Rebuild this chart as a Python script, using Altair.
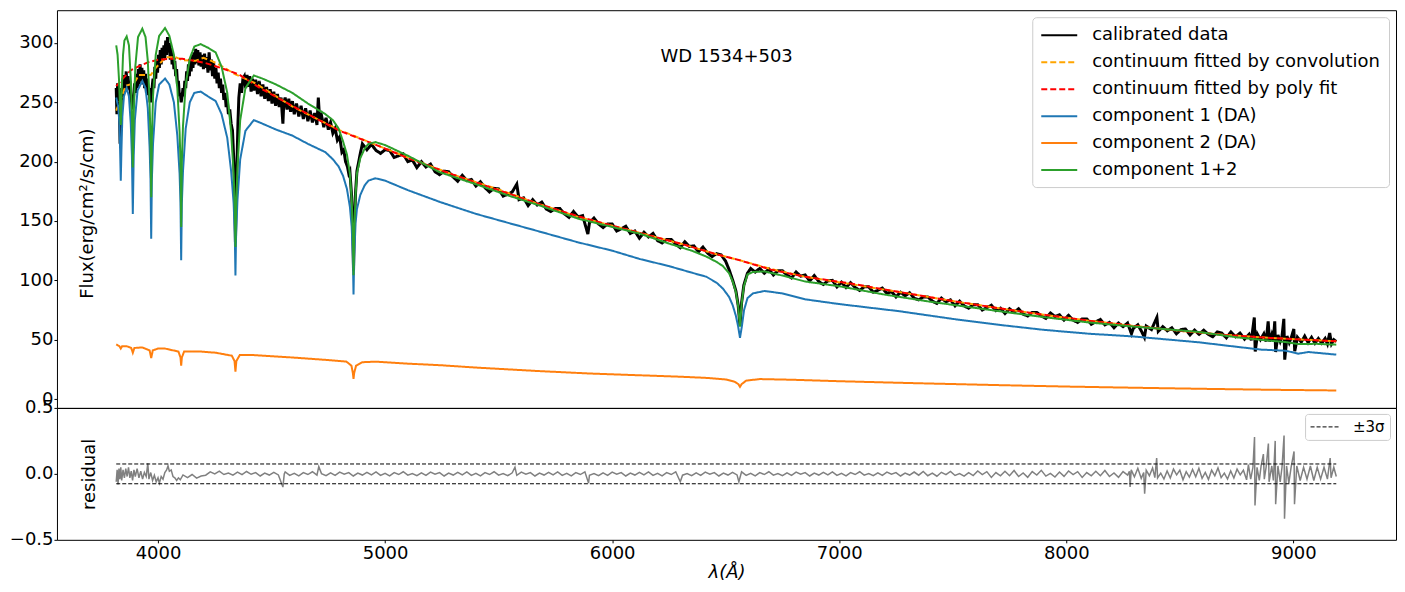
import altair as alt
import pandas as pd

# ---------------- data ----------------
series_names = ["calibrated data", "continuum fitted by convolution",
                "continuum fitted by poly fit", "component 1 (DA)",
                "component 2 (DA)", "component 1+2"]
series_colors = ["#000000", "#ffa500", "#ff0000", "#1f77b4", "#ff7f0e", "#2ca02c"]
series_dash = [[1, 0], [6, 3], [6, 3], [1, 0], [1, 0], [1, 0]]
series_width = [3, 2, 2, 2, 2, 2]

x_ticks = [4000, 5000, 6000, 7000, 8000, 9000]
y_ticks_top = [0, 50, 100, 150, 200, 250, 300]
y_ticks_res = [-0.5, 0.0, 0.5]
star_name = "WD 1534+503"
star_name_pos = [6504, 288]
sigma3 = 0.075
lam_span = [3816, 9189]

calibrated = [
    (3816, 262), (3819, 240), (3822, 266), (3825, 248), (3828, 258), (3831, 236), (3833, 215), (3835, 222),
    (3837, 245), (3840, 262), (3843, 252), (3846, 270), (3849, 258), (3852, 273), (3856, 262), (3860, 276),
    (3864, 260), (3868, 272), (3872, 262), (3876, 268), (3880, 255), (3884, 250), (3887, 244), (3890, 248),
    (3893, 256), (3897, 266), (3901, 258), (3905, 274), (3909, 262), (3913, 278), (3917, 265), (3921, 282),
    (3925, 268), (3929, 279), (3933, 265), (3937, 277), (3941, 262), (3945, 274), (3949, 258), (3953, 270),
    (3957, 256), (3961, 262), (3965, 250), (3968, 255), (3971, 250), (3974, 262), (3978, 270), (3982, 262),
    (3986, 280), (3990, 270), (3994, 286), (3998, 275), (4002, 290), (4006, 279), (4010, 294), (4014, 282),
    (4018, 296), (4022, 285), (4026, 298), (4030, 287), (4034, 302), (4038, 290), (4042, 305), (4046, 292),
    (4050, 300), (4054, 286), (4058, 296), (4062, 282), (4066, 290), (4070, 278), (4074, 285), (4078, 272),
    (4082, 278), (4086, 264), (4090, 268), (4094, 255), (4098, 258), (4102, 250), (4106, 255), (4110, 262),
    (4114, 255), (4118, 268), (4122, 262), (4126, 276), (4130, 268), (4134, 282), (4138, 272), (4142, 286),
    (4146, 276), (4150, 290), (4154, 279), (4158, 292), (4162, 282), (4166, 295), (4170, 283), (4175, 294),
    (4180, 281), (4185, 292), (4190, 280), (4195, 290), (4200, 278), (4205, 291), (4210, 279), (4215, 288),
    (4220, 275), (4225, 292), (4230, 277), (4235, 286), (4240, 272), (4245, 283), (4250, 270), (4255, 279),
    (4260, 266), (4265, 275), (4270, 262), (4275, 270), (4280, 258), (4285, 265), (4290, 252), (4295, 258),
    (4300, 246), (4305, 252), (4310, 240), (4316, 244), (4322, 232), (4328, 226), (4334, 200), (4338, 170),
    (4341, 132), (4344, 170), (4348, 200), (4352, 232), (4356, 254), (4362, 266), (4368, 258), (4374, 270),
    (4380, 272), (4386, 262), (4392, 273), (4398, 263), (4404, 272), (4410, 259), (4416, 270), (4422, 260),
    (4430, 269), (4438, 257), (4446, 268), (4454, 255), (4462, 265), (4470, 253), (4478, 263), (4486, 251),
    (4494, 261), (4502, 249), (4510, 259), (4518, 247), (4526, 257), (4534, 246), (4542, 254), (4550, 232),
    (4554, 250), (4560, 254), (4568, 244), (4576, 253), (4584, 242), (4592, 251), (4600, 240), (4610, 249),
    (4620, 238), (4630, 247), (4640, 236), (4650, 245), (4660, 234), (4670, 243), (4680, 233), (4690, 241),
    (4700, 231), (4706, 254), (4712, 235), (4720, 239), (4730, 229), (4740, 237), (4750, 227), (4760, 233),
    (4770, 224), (4780, 228), (4790, 218), (4800, 221), (4810, 208), (4818, 210), (4826, 200), (4834, 196),
    (4840, 190), (4845, 192), (4850, 178), (4853, 170), (4858, 142), (4861, 108), (4864, 142), (4870, 174),
    (4876, 192), (4884, 200), (4890, 206), (4900, 215), (4920, 210), (4940, 214.5), (4960, 209.5), (4980, 207),
    (5000, 210), (5020, 209.5), (5040, 203.5), (5060, 205), (5080, 206.5), (5100, 200), (5120, 201.5),
    (5140, 195), (5160, 200), (5180, 195.5), (5200, 198), (5220, 191.5), (5240, 189), (5260, 192),
    (5280, 191.5), (5300, 187), (5320, 183.5), (5340, 188.5), (5360, 184), (5380, 185), (5400, 179.5),
    (5420, 183), (5440, 178), (5460, 174.5), (5480, 177.5), (5500, 177), (5520, 171), (5540, 172.5),
    (5560, 174.5), (5580, 181), (5590, 168), (5610, 169.5), (5630, 163), (5650, 168), (5670, 163.5),
    (5690, 166), (5710, 160), (5730, 158), (5750, 160.5), (5770, 160.5), (5790, 156), (5810, 153),
    (5830, 158), (5850, 153.5), (5870, 154.5), (5893, 139), (5900, 148.5), (5920, 152.5), (5940, 147.5),
    (5960, 144.5), (5980, 147.5), (6000, 147.5), (6020, 141.5), (6040, 143.5), (6060, 145.5), (6080, 139.5),
    (6100, 141.5), (6120, 135.5), (6140, 140.5), (6160, 136.5), (6180, 139.5), (6200, 133.5), (6220, 131.5),
    (6240, 134.5), (6260, 134.5), (6280, 130.5), (6300, 127.5), (6320, 132.5), (6340, 128.5), (6360, 129),
    (6380, 124), (6400, 128), (6420, 123), (6440, 120), (6460, 122.5), (6480, 121.5), (6500, 116),
    (6515, 109), (6531, 100), (6545, 91), (6555, 79), (6563, 62), (6570, 81), (6580, 96), (6596, 106),
    (6610, 110), (6630, 107), (6650, 110), (6670, 106), (6690, 109.5), (6710, 104.5), (6730, 108),
    (6750, 108), (6770, 104.5), (6790, 102), (6810, 107), (6830, 103.5), (6850, 104.5), (6870, 99.5),
    (6890, 104), (6910, 99), (6930, 96.5), (6950, 99.5), (6970, 100), (6990, 94.5), (7010, 98.5), (7030, 94),
    (7050, 98), (7070, 94), (7090, 91.5), (7110, 94.5), (7130, 94.5), (7150, 90), (7170, 91.5), (7190, 93.5),
    (7210, 89), (7230, 90.5), (7250, 86), (7270, 90), (7290, 87), (7310, 89.5), (7330, 85), (7350, 83.5),
    (7370, 86), (7390, 86), (7410, 82.5), (7430, 80.5), (7450, 85), (7470, 82), (7490, 83.5), (7510, 78.5),
    (7530, 82.5), (7550, 78.5), (7570, 76.5), (7590, 79.5), (7610, 79.5), (7630, 75), (7650, 77), (7670, 79),
    (7690, 74.5), (7710, 76.5), (7730, 72), (7750, 76), (7770, 73), (7790, 76), (7810, 71.5), (7830, 70),
    (7850, 73), (7870, 73), (7890, 70), (7910, 68), (7930, 72.5), (7950, 69.5), (7970, 71), (7990, 66.5),
    (8010, 70.5), (8030, 66.5), (8050, 64.5), (8070, 67.5), (8090, 67.5), (8110, 63), (8130, 65), (8150, 67),
    (8170, 62.5), (8190, 64.5), (8210, 60), (8230, 64), (8250, 61), (8270, 64), (8287, 55), (8295, 59.5),
    (8315, 62.5), (8330, 57.5), (8344, 52), (8352, 61.5), (8375, 58.5), (8399, 68.7), (8405, 57), (8425, 61),
    (8445, 57.5), (8465, 60), (8485, 55), (8505, 58.5), (8525, 59), (8545, 54), (8565, 58), (8585, 54.5),
    (8605, 58), (8625, 54.5), (8645, 52.5), (8665, 56.5), (8685, 55.5), (8705, 51.5), (8725, 56.5),
    (8745, 52.5), (8765, 55.5), (8785, 50.5), (8805, 54.5), (8815, 49.5), (8828, 68.7), (8832, 40),
    (8842, 54.5), (8855, 50), (8870, 55), (8880, 48.5), (8889, 65.4), (8895, 48.5), (8905, 54.5), (8912, 49.5),
    (8918, 65.4), (8922, 39.6), (8932, 54), (8942, 48.5), (8950, 53), (8958, 67.5), (8962, 33.2), (8972, 53),
    (8982, 47.5), (8992, 52.5), (9002, 59), (9006, 40.2), (9018, 52), (9035, 48), (9050, 53), (9065, 47.5),
    (9080, 52), (9095, 47), (9110, 51), (9125, 47), (9140, 51), (9150, 46.5), (9160, 55.6), (9168, 46.5),
    (9178, 50), (9189, 48.5),
]

cont_conv = [
    (3816, 243), (3858, 264), (3894, 266), (3916, 273), (3968, 273), (3990, 279), (4034, 288), (4078, 288),
    (4107, 285.5), (4166, 285), (4200, 287.5), (4240, 284.5), (4267, 282), (4341, 273.5), (4429, 266),
    (4591, 246.5), (4700, 236), (4800, 226.5), (4949, 215), (5100, 203.5), (5300, 189), (5500, 176.5),
    (5682, 164), (5850, 153.5), (6000, 146), (6121, 140), (6300, 131), (6450, 122.5), (6560, 117),
    (6700, 109.5), (6850, 103), (7044, 97), (7300, 89), (7500, 82.5), (7704, 76.5), (7900, 71), (8100, 66),
    (8300, 61.5), (8500, 57.5), (8700, 54), (8900, 51.5), (9050, 50), (9189, 48.6),
]

cont_poly = [
    (3816, 263.6), (3850, 271), (3880, 277), (3916, 280.4), (3960, 284), (4000, 285.8), (4050, 286.6),
    (4107, 286.6), (4160, 285), (4210, 283), (4260, 280), (4297, 277.6), (4356, 273.5), (4450, 262),
    (4591, 247), (4700, 236), (4800, 226), (4949, 215), (5100, 203), (5300, 189), (5500, 176), (5682, 164),
    (5850, 154), (6000, 146), (6121, 140), (6300, 131), (6450, 122.5), (6560, 117), (6700, 109), (6850, 103),
    (7044, 97.5), (7300, 89), (7500, 82.5), (7704, 76.5), (7900, 71), (8100, 66), (8300, 61.5), (8500, 57.5),
    (8700, 54), (8900, 51.5), (9050, 50), (9189, 48.6),
]

comp1 = [
    (3816, 254), (3825, 246), (3830, 232), (3833, 210), (3836, 184), (3839, 210), (3843, 238), (3850, 255),
    (3862, 262), (3872, 255), (3880, 232), (3885, 205), (3889, 156), (3893, 205), (3898, 235), (3910, 260),
    (3931, 268), (3945, 262), (3955, 245), (3963, 212), (3967, 185), (3970, 135), (3973, 185), (3978, 215),
    (3990, 250), (4005, 265), (4031, 270), (4050, 265), (4070, 250), (4085, 222), (4095, 190), (4099, 165),
    (4102, 117), (4105, 165), (4110, 192), (4122, 228), (4140, 250), (4160, 258), (4188, 259), (4220, 255),
    (4254, 251), (4280, 240), (4305, 220), (4322, 192), (4333, 165), (4338, 140), (4341, 104), (4344, 140),
    (4350, 168), (4362, 202), (4385, 226), (4422, 235), (4460, 232), (4520, 227), (4591, 222), (4660, 215),
    (4737, 208), (4770, 202), (4795, 196), (4815, 188), (4832, 177), (4845, 162), (4853, 145), (4858, 120),
    (4861, 88), (4864, 120), (4870, 148), (4876, 160), (4891, 172), (4910, 180), (4927, 184), (4957, 186),
    (5000, 184), (5100, 176), (5242, 166), (5400, 156), (5550, 148), (5682, 141), (5850, 132), (6000, 125),
    (6121, 118), (6250, 112), (6350, 106.5), (6415, 103), (6460, 98), (6488, 93), (6515, 86), (6531, 79),
    (6545, 70), (6555, 61), (6563, 51.5), (6571, 61), (6581, 75), (6596, 85), (6620, 89), (6671, 91),
    (6750, 89), (6850, 84), (7000, 80), (7264, 74), (7500, 67.5), (7704, 62.5), (7900, 58.3), (8100, 55),
    (8290, 52.8), (8583, 47.8), (8750, 44), (8860, 41.6), (8966, 40.7), (9022, 38.2), (9066, 39.6), (9189, 37.4),
]

comp2 = [
    (3816, 46), (3825, 45), (3830, 44.5), (3836, 42.5), (3842, 44.5), (3862, 44.5), (3882, 43), (3889, 39),
    (3896, 43), (3930, 43.5), (3963, 41), (3970, 34.5), (3977, 41), (4000, 42.5), (4031, 42.5), (4090, 40),
    (4099, 35), (4102, 28), (4105, 35), (4115, 40), (4188, 40), (4254, 39), (4325, 36.5), (4337, 32),
    (4341, 23), (4345, 32), (4360, 37), (4422, 37), (4591, 35), (4737, 33), (4830, 31.5), (4852, 28),
    (4858, 22), (4861, 17), (4864, 22), (4872, 28), (4900, 31), (4957, 31.5), (5100, 29.8), (5242, 28.5),
    (5400, 26.5), (5682, 23.5), (5900, 21.5), (6121, 20), (6300, 18.8), (6415, 17.8), (6500, 16.5),
    (6540, 14.5), (6556, 12.5), (6563, 10.3), (6570, 12.5), (6590, 15.5), (6650, 16.8), (6800, 16.2),
    (7000, 15), (7300, 13.5), (7704, 11.7), (8000, 10.5), (8300, 9.5), (8600, 8.6), (8900, 7.8), (9189, 7.2),
]

comp12 = [
    (3816, 298), (3822, 290), (3828, 270), (3832, 250), (3836, 231), (3840, 258), (3846, 290), (3852, 302),
    (3862, 305.5), (3872, 298), (3880, 270), (3885, 240), (3889, 195), (3893, 240), (3900, 280), (3912, 305),
    (3931, 312), (3945, 305), (3955, 285), (3962, 255), (3967, 220), (3970, 170), (3973, 220), (3978, 255),
    (3990, 290), (4005, 306), (4031, 312.6), (4050, 306), (4070, 290), (4085, 262), (4095, 225), (4099, 200),
    (4102, 145), (4105, 200), (4110, 230), (4122, 265), (4140, 287), (4160, 297), (4188, 299), (4220, 296),
    (4254, 292), (4280, 280), (4305, 258), (4322, 225), (4333, 190), (4338, 162), (4341, 128), (4344, 162),
    (4350, 195), (4362, 235), (4385, 262), (4422, 272.6), (4460, 270), (4520, 265), (4591, 258), (4660, 249),
    (4737, 240), (4770, 235), (4795, 228), (4815, 217), (4832, 206), (4845, 190), (4853, 168), (4858, 140),
    (4861, 104.4), (4864, 140), (4870, 172), (4876, 190), (4891, 203), (4910, 211), (4927, 215), (4957, 216.5),
    (5000, 214), (5100, 205), (5242, 191), (5400, 181), (5550, 171), (5682, 163), (5850, 152), (6000, 145),
    (6121, 139.4), (6250, 131), (6350, 125), (6415, 120), (6460, 115.5), (6488, 112), (6515, 106), (6531, 99),
    (6545, 90), (6555, 78), (6563, 61), (6570, 80), (6580, 95), (6596, 105), (6620, 107), (6671, 107.5),
    (6750, 104), (6850, 99), (7000, 95), (7200, 88), (7400, 82), (7704, 74), (7900, 69), (8100, 64.5),
    (8300, 61), (8583, 56.5), (8750, 52), (8876, 49.5), (8966, 48), (9022, 46.3), (9100, 46.5), (9189, 45.8),
]

residual = [
    (3816, -0.06), (3820, 0.03), (3824, -0.08), (3828, 0.04), (3832, -0.04), (3836, 0.05), (3840, -0.05),
    (3846, 0.03), (3852, -0.03), (3858, 0.04), (3864, -0.02), (3870, 0.05), (3876, -0.03), (3882, 0.02),
    (3888, -0.05), (3894, 0.03), (3900, -0.02), (3908, 0.04), (3916, -0.03), (3924, 0.02), (3932, -0.04),
    (3940, 0.01), (3948, -0.02), (3955, 0.08), (3960, -0.04), (3968, 0.01), (3976, -0.05), (3984, -0.01),
    (3992, -0.06), (4000, -0.03), (4006, -0.07), (4014, -0.02), (4022, -0.04), (4030, 0.01), (4038, 0.03),
    (4044, 0.06), (4050, 0.02), (4058, 0.03), (4066, -0.02), (4074, -0.03), (4082, -0.05), (4090, -0.03),
    (4098, -0.045), (4110, -0.008), (4130, -0.028), (4150, -0.005), (4170, -0.032), (4190, -0.016),
    (4210, -0.01), (4230, 0.015), (4250, 0.0), (4270, 0.021), (4290, -0.005), (4310, 0.007), (4330, -0.009),
    (4350, 0.013), (4370, -0.006), (4390, 0.018), (4410, -0.003), (4430, 0.01), (4450, -0.016), (4470, 0.006),
    (4490, -0.009), (4510, 0.012), (4530, -0.008), (4550, -0.1), (4556, 0.0), (4560, 0.015), (4580, -0.012),
    (4600, 0.004), (4620, -0.015), (4640, 0.01), (4660, -0.005), (4680, 0.016), (4700, -0.01), (4708, 0.055),
    (4720, 0.002), (4740, -0.014), (4760, 0.008), (4780, -0.011), (4800, 0.013), (4820, -0.003), (4840, 0.01),
    (4860, -0.016), (4880, 0.006), (4900, -0.009), (4920, 0.012), (4940, -0.008), (4960, 0.015), (4980, -0.012),
    (5000, 0.004), (5020, -0.015), (5040, 0.01), (5060, -0.005), (5080, 0.016), (5100, -0.01), (5120, 0.002),
    (5140, -0.014), (5160, 0.008), (5180, -0.011), (5200, 0.013), (5220, -0.003), (5240, 0.01), (5260, -0.016),
    (5280, 0.006), (5300, -0.009), (5320, 0.012), (5340, -0.008), (5360, 0.015), (5380, -0.012), (5400, 0.004),
    (5420, -0.015), (5440, 0.01), (5460, -0.005), (5480, 0.016), (5500, -0.01), (5520, 0.002), (5540, -0.014),
    (5560, 0.008), (5572, 0.05), (5580, -0.011), (5600, 0.013), (5620, -0.003), (5640, 0.01), (5660, -0.016),
    (5680, 0.006), (5700, -0.009), (5720, 0.012), (5740, -0.008), (5760, 0.015), (5780, -0.012), (5800, 0.004),
    (5820, -0.015), (5840, 0.01), (5860, -0.005), (5880, 0.016), (5896, -0.07), (5900, -0.01), (5920, 0.002),
    (5940, -0.014), (5960, 0.008), (5980, -0.011), (6000, 0.013), (6020, -0.003), (6040, 0.01), (6060, -0.016),
    (6080, 0.006), (6100, -0.009), (6120, 0.012), (6140, -0.008), (6160, 0.015), (6180, -0.012), (6200, 0.004),
    (6220, -0.015), (6240, 0.01), (6260, -0.005), (6280, 0.016), (6300, -0.06), (6310, -0.01), (6330, 0.002),
    (6350, -0.014), (6370, 0.008), (6390, -0.011), (6410, 0.013), (6430, -0.003), (6450, 0.01), (6470, -0.016),
    (6490, 0.006), (6510, -0.009), (6530, 0.012), (6550, -0.008), (6558, -0.06), (6570, 0.015), (6590, -0.012),
    (6610, 0.004), (6630, -0.015), (6650, 0.01), (6670, -0.005), (6690, 0.016), (6710, -0.01), (6730, 0.002),
    (6750, -0.014), (6770, 0.008), (6790, -0.011), (6810, 0.013), (6830, -0.003), (6850, 0.01), (6870, -0.016),
    (6890, 0.006), (6910, -0.009), (6930, 0.012), (6950, -0.008), (6970, 0.015), (6990, -0.012), (7010, 0.004),
    (7030, -0.015), (7050, 0.01), (7070, -0.005), (7090, 0.016), (7110, -0.01), (7130, 0.002), (7150, -0.014),
    (7170, 0.008), (7190, -0.011), (7210, 0.013), (7230, -0.003), (7250, 0.01), (7270, -0.016), (7290, 0.006),
    (7310, -0.009), (7330, 0.014), (7350, -0.01), (7370, 0.018), (7390, -0.014), (7410, 0.005), (7430, -0.018),
    (7450, 0.012), (7470, -0.006), (7490, 0.019), (7510, -0.012), (7530, 0.002), (7550, -0.017), (7570, 0.01),
    (7590, -0.013), (7610, 0.022), (7630, -0.005), (7650, 0.017), (7670, -0.027), (7690, 0.01), (7710, -0.015),
    (7730, 0.02), (7750, -0.014), (7770, 0.026), (7790, -0.02), (7810, 0.007), (7830, -0.026), (7850, 0.017),
    (7870, -0.009), (7890, 0.027), (7910, -0.017), (7930, 0.003), (7950, -0.024), (7970, 0.014), (7990, -0.019),
    (8010, 0.022), (8030, -0.005), (8050, 0.017), (8070, -0.027), (8090, 0.01), (8110, -0.015), (8130, 0.02),
    (8150, -0.014), (8170, 0.026), (8190, -0.02), (8210, 0.007), (8230, -0.026), (8250, 0.017), (8270, -0.009),
    (8278, 0.02), (8281, -0.1), (8286, 0.03), (8300, -0.022), (8315, 0.042), (8330, -0.034), (8341, 0.011),
    (8345, -0.15), (8352, 0.028), (8366, -0.014), (8380, 0.045), (8390, -0.028), (8398, 0.12), (8402, -0.03),
    (8416, 0.006), (8430, -0.039), (8444, 0.022), (8458, -0.031), (8472, 0.036), (8486, -0.008), (8500, 0.028),
    (8514, -0.045), (8528, 0.017), (8542, -0.025), (8556, 0.034), (8570, -0.022), (8584, 0.042), (8598, -0.034),
    (8612, 0.011), (8626, -0.042), (8640, 0.028), (8654, -0.014), (8668, 0.045), (8682, -0.028), (8696, 0.006),
    (8710, -0.039), (8724, 0.022), (8738, -0.031), (8752, 0.036), (8766, -0.008), (8780, 0.028), (8794, -0.045),
    (8802, 0.07), (8812, -0.04), (8822, 0.05), (8829, 0.28), (8831, -0.24), (8840, 0.05), (8850, -0.05),
    (8858, 0.06), (8868, 0.15), (8872, -0.04), (8880, 0.05), (8890, 0.23), (8893, -0.06), (8905, 0.06),
    (8912, -0.05), (8920, 0.25), (8922, -0.23), (8932, 0.06), (8942, -0.06), (8950, 0.05), (8959, 0.29),
    (8961, -0.34), (8970, 0.06), (8980, -0.07), (8990, 0.05), (9003, 0.17), (9005, -0.23), (9015, 0.06),
    (9030, -0.05), (9045, 0.05), (9060, -0.04), (9075, 0.06), (9090, -0.05), (9105, 0.05), (9120, -0.04),
    (9135, 0.05), (9150, -0.04), (9162, 0.12), (9166, -0.03), (9178, 0.05), (9189, -0.02),
]

# ---------------- chart ----------------
FONT = "DejaVu Sans"
FS = 18
X_DOMAIN = [3555, 9452]
TOP_Y_DOMAIN = [-7.5, 327.6]
RES_Y_DOMAIN = [-0.5, 0.5]
W, H_TOP, H_BOT = 1340, 398, 132


def to_df(pts, name):
    df = pd.DataFrame(pts, columns=["lam", "flux"])
    df["series"] = name
    return df


x_scale = alt.Scale(domain=X_DOMAIN, nice=False, zero=False)
x_top = alt.X("lam:Q", scale=x_scale, axis=None)
y_top = alt.Y(
    "flux:Q",
    scale=alt.Scale(domain=TOP_Y_DOMAIN, nice=False, zero=False),
    axis=alt.Axis(values=y_ticks_top, title="Flux(erg/cm²/s/cm)", titleX=36, titleY=H_TOP / 2 + 4,
                  titleAngle=270, titleBaseline="alphabetic", titleAlign="center"),
)

# line-shaped legend handle: 36 px long, row height from the label
legend_top = alt.Legend(orient="top-right", offset=7, padding=8, rowPadding=8,
                        labelFontSize=FS, labelFont=FONT, symbolSize=324,
                        symbolType="M-1,0H3", symbolStrokeWidth=2, labelOffset=32,
                        strokeColor="#cccccc", fillColor="white", cornerRadius=4, labelLimit=500)
color = alt.Color("series:N", title=None,
                  scale=alt.Scale(domain=series_names, range=series_colors), legend=legend_top)
dash = alt.StrokeDash("series:N", title=None,
                      scale=alt.Scale(domain=series_names, range=series_dash), legend=legend_top)

series_pts = [calibrated, cont_conv, cont_poly, comp1, comp2, comp12]
layers = []
for pts, name, sw in zip(series_pts, series_names, series_width):
    layers.append(
        alt.Chart(to_df(pts, name)).mark_line(strokeWidth=sw).encode(
            x=x_top, y=y_top, color=color, strokeDash=dash)
    )

name_df = pd.DataFrame({"lam": [star_name_pos[0]], "flux": [star_name_pos[1]], "label": [star_name]})
name_text = alt.Chart(name_df).mark_text(fontSize=FS, font=FONT, color="black").encode(
    x=x_top, y=y_top, text="label:N")

top = alt.layer(*layers, name_text).properties(width=W, height=H_TOP)

# residual panel
res_df = pd.DataFrame(residual, columns=["lam", "res"])
x_bot = alt.X("lam:Q", scale=x_scale,
              axis=alt.Axis(values=x_ticks, format="d", title="λ(Å)", titleFontStyle="italic",
                            titlePadding=1, labelPadding=2))
y_bot = alt.Y("res:Q", scale=alt.Scale(domain=RES_Y_DOMAIN, nice=False),
              axis=alt.Axis(values=y_ticks_res, format=".1f", title="residual", titleX=38, titleY=H_BOT / 2,
                            titleAngle=270, titleBaseline="alphabetic", titleAlign="center"))
res_line = alt.Chart(res_df).mark_line(color="#808080", strokeWidth=1.5).encode(x=x_bot, y=y_bot)

sig_df = pd.DataFrame({
    "lam": [lam_span[0], lam_span[0]],
    "lam_end": [lam_span[1], lam_span[1]],
    "res": [sigma3, -sigma3],
    "band": ["±3σ", "±3σ"],
})
legend_res = alt.Legend(orient="top-right", offset=6, padding=5, labelFontSize=15, labelFont=FONT,
                        symbolSize=225, symbolType="M-1,0H3", symbolStrokeWidth=1,
                        symbolStrokeColor="black", labelOffset=27, strokeColor="#cccccc",
                        fillColor="white", cornerRadius=3)
sig_rule = alt.Chart(sig_df).mark_rule(color="black", strokeWidth=1).encode(
    x=x_bot, x2="lam_end:Q", y=y_bot,
    strokeDash=alt.StrokeDash("band:N", title=None,
                              scale=alt.Scale(domain=["±3σ"], range=[[4, 2]]), legend=legend_res),
)

bottom = alt.layer(res_line, sig_rule).properties(width=W, height=H_BOT)

chart = (
    alt.vconcat(top, bottom, spacing=0, bounds="flush")
    .resolve_scale(color="independent", strokeDash="independent")
    .properties(padding={"left": 0, "top": 1, "right": 0, "bottom": 0})
    .configure_view(stroke="black", strokeWidth=1)
    .configure_axis(labelFont=FONT, titleFont=FONT, labelFontSize=FS, titleFontSize=FS,
                    titleFontWeight="normal", labelColor="black", titleColor="black",
                    tickColor="black", domain=False, grid=False, tickSize=3, labelPadding=1)
    .configure_legend(labelColor="black")
)

chart.save("out.html", embed_options={"renderer": "svg", "actions": False})
